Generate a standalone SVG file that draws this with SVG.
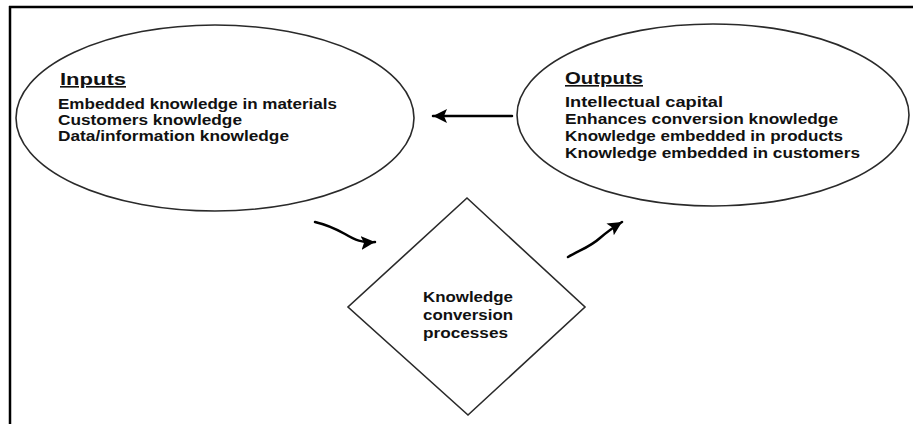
<svg xmlns="http://www.w3.org/2000/svg" width="913" height="424" viewBox="0 0 913 424">
  <style>
    .frame { stroke: #000; stroke-width: 2.5; fill: none; }
    .shape { fill: #fff; stroke: #2a2a2a; stroke-width: 1.6; }
    .txt { font-family: "Liberation Sans", Arial, sans-serif; font-weight: bold; font-size: 15px; fill: #111; }
    .head { font-size: 16px; text-decoration: underline; }
    .conn { fill: none; stroke: #000; stroke-width: 2.5; stroke-linecap: round; }
  </style>
  <defs>
    <marker id="arrow" markerUnits="userSpaceOnUse" markerWidth="16" markerHeight="16" refX="14" refY="7" orient="auto">
      <path d="M0,0 L14,7 L0,14 L3,7 z" fill="#000"/>
    </marker>
  </defs>

  <rect width="913" height="424" fill="#fff"/>

  <!-- page frame: top and left rules -->
  <g id="frame">
    <line class="frame" x1="9" y1="7" x2="913" y2="7"/>
    <line class="frame" x1="10" y1="6" x2="10" y2="424"/>
  </g>

  <g id="inputs">
    <ellipse class="shape" cx="215" cy="118" rx="199" ry="93"/>
    <text class="txt head" x="60" y="85" textLength="66" lengthAdjust="spacingAndGlyphs">Inputs</text>
    <text class="txt" x="58" y="109" textLength="279" lengthAdjust="spacingAndGlyphs">Embedded knowledge in materials</text>
    <text class="txt" x="58" y="125" textLength="184" lengthAdjust="spacingAndGlyphs">Customers knowledge</text>
    <text class="txt" x="58" y="141" textLength="231" lengthAdjust="spacingAndGlyphs">Data/information knowledge</text>
  </g>

  <g id="outputs">
    <ellipse class="shape" cx="713" cy="115" rx="196" ry="91"/>
    <text class="txt head" x="565" y="84" textLength="78" lengthAdjust="spacingAndGlyphs">Outputs</text>
    <text class="txt" x="565" y="107" textLength="158" lengthAdjust="spacingAndGlyphs">Intellectual capital</text>
    <text class="txt" x="565" y="124" textLength="273" lengthAdjust="spacingAndGlyphs">Enhances conversion knowledge</text>
    <text class="txt" x="565" y="141" textLength="278" lengthAdjust="spacingAndGlyphs">Knowledge embedded in products</text>
    <text class="txt" x="565" y="158" textLength="295" lengthAdjust="spacingAndGlyphs">Knowledge embedded in customers</text>
  </g>

  <g id="process">
    <polygon class="shape" points="467,198 585,307 468,415 348,307"/>
    <text class="txt" x="423" y="302" textLength="90" lengthAdjust="spacingAndGlyphs">Knowledge</text>
    <text class="txt" x="423" y="320" textLength="90" lengthAdjust="spacingAndGlyphs">conversion</text>
    <text class="txt" x="423" y="338" textLength="85" lengthAdjust="spacingAndGlyphs">processes</text>
  </g>

  <g id="connectors">
    <line class="conn" x1="512" y1="116" x2="433" y2="116" marker-end="url(#arrow)"/>
    <path class="conn" d="M315,222 C328,225 336,229 345,234 C355,240 362,243 375,242" marker-end="url(#arrow)"/>
    <path class="conn" d="M568,257 C580,250 590,247 600,238 C608,231 614,227 622,222" marker-end="url(#arrow)"/>
  </g>
</svg>
